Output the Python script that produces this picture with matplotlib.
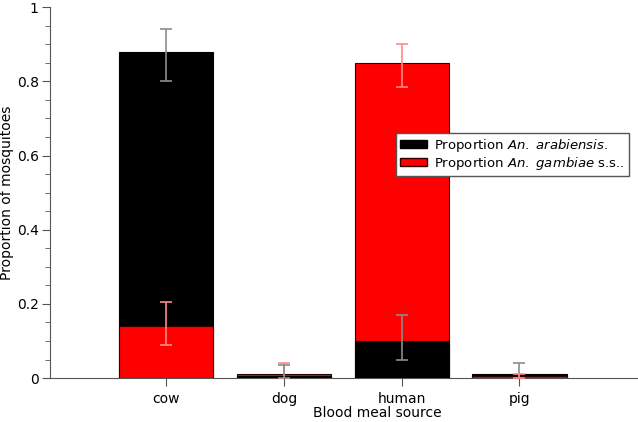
import numpy as np
import matplotlib
matplotlib.use("Agg")
import matplotlib.pyplot as plt
from matplotlib.ticker import MultipleLocator

sources = ["cow", "dog", "human", "pig"]
arab = [0.88, 0.005, 0.10, 0.01]
arab_lo = [0.80, 0.0, 0.05, 0.0]
arab_hi = [0.94, 0.035, 0.17, 0.04]
gamb = [0.14, 0.01, 0.85, 0.005]
gamb_lo = [0.09, 0.0, 0.785, 0.0]
gamb_hi = [0.205, 0.04, 0.90, 0.012]

x = np.arange(len(sources))

fig = plt.figure(figsize=(6.38, 4.22), dpi=100)
ax = fig.add_axes([0.078, 0.104, 0.93, 0.879])

for i in x:
    # larger bar goes behind so both stay visible
    order = [("a", arab[i]), ("g", gamb[i])]
    order.sort(key=lambda t: -t[1])
    for z, (s, v) in enumerate(order):
        if s == "a":
            ax.bar(i, v, 0.8, color="black", edgecolor="black", lw=0.8, zorder=2 + 2 * z)
            ax.errorbar(i, v, yerr=[[v - arab_lo[i]], [arab_hi[i] - v]], fmt="none",
                        ecolor="#8c8c8c", elinewidth=1.2, capsize=4, capthick=1.2, zorder=3 + 2 * z)
        else:
            ax.bar(i, v, 0.8, color="#ff0000", edgecolor="#300000", lw=0.8, zorder=2 + 2 * z)
            ax.errorbar(i, v, yerr=[[v - gamb_lo[i]], [gamb_hi[i] - v]], fmt="none",
                        ecolor="#ff8a8a", elinewidth=1.2, capsize=4, capthick=1.2, zorder=3 + 2 * z)

# legend proxies
ax.bar(0, 0, color="black", edgecolor="black", label="Proportion $\\it{An.}$ $\\it{arabiensis.}$")
ax.bar(0, 0, color="#ff0000", edgecolor="#300000", label="Proportion $\\it{An.}$ $\\it{gambiae}$ s.s..")
ax.legend(loc="upper right", bbox_to_anchor=(629 / 638, 1 - 133 / 422), bbox_transform=fig.transFigure,
          fancybox=False, edgecolor="#555555", framealpha=1, fontsize=9.5,
          handlelength=2.0, handleheight=0.6, handletextpad=0.6, borderpad=0.3,
          labelspacing=0.05, borderaxespad=0)

ax.set_xlim(-0.99, 4.05)
ax.set_ylim(0, 1)
ax.set_xticks(x)
ax.set_xticklabels(sources, fontsize=10)
ax.set_yticks([0, 0.2, 0.4, 0.6, 0.8, 1])
ax.set_yticklabels(["0", "0.2", "0.4", "0.6", "0.8", "1"], fontsize=10)
ax.yaxis.set_minor_locator(MultipleLocator(0.05))
ax.tick_params(axis="y", which="major", length=6, color="#555555", pad=2)
ax.tick_params(axis="y", which="minor", length=3.5, color="#555555")
ax.tick_params(axis="x", length=6, color="#555555", pad=4)
for s in ["top", "right"]:
    ax.spines[s].set_visible(False)
ax.spines["left"].set_color("#555555")
ax.spines["bottom"].set_color("#555555")
ax.set_xlabel("Blood meal source", fontsize=10)
ax.set_ylabel("Proportion of mosquitoes", fontsize=10)
ax.xaxis.set_label_coords(0.5 + (350 - 0.5 * 638) / (0.93 * 638), -0.074)
ax.yaxis.set_label_coords(-0.06, 0.5)

fig.savefig("out.png", dpi=100)
